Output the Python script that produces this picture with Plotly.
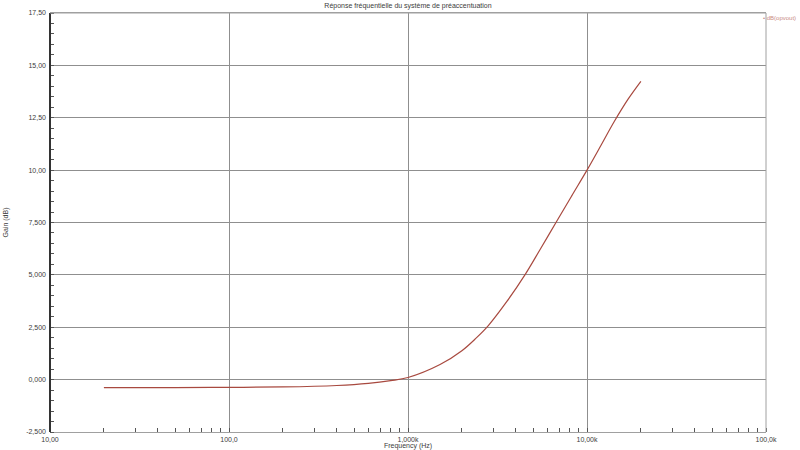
import plotly.graph_objects as go

# values
freq_hz = [20, 50, 100, 200, 400, 600, 800, 1000, 1510, 2000, 2400, 2810,
           3560, 4500, 5460, 6710, 8200, 10000, 12000, 14200, 17000, 20000]
gain_db = [-0.38, -0.38, -0.37, -0.35, -0.28, -0.18, -0.05, 0.10, 0.72, 1.38,
           1.98, 2.58, 3.72, 5.00, 6.20, 7.50, 8.76, 10.00, 11.20, 12.32, 13.40, 14.24]

y_tick_vals = [-2.5, 0, 2.5, 5, 7.5, 10, 12.5, 15, 17.5]
y_tick_text = ['-2,500', '0,000', '2,500', '5,000', '7,500', '10,00', '12,50', '15,00', '17,50']
x_tick_vals = [10, 100, 1000, 10000, 100000]
x_tick_text = ['10,00', '100,0', '1,000k', '10,00k', '100,0k']

font = 'Liberation Sans, Arial, sans-serif'
text_color = '#3c3c3c'
grid_color = '#8f8f8f'
curve_color = '#a8493f'

fig = go.Figure()
fig.add_trace(go.Scatter(
    x=freq_hz,
    y=gain_db,
    mode='lines',
    line=dict(color=curve_color, width=1.2, shape='spline', smoothing=1),
    name='dB(opvout)',
    showlegend=False,
))

fig.update_layout(
    width=800,
    height=450,
    margin=dict(l=50, r=34, t=13, b=18, autoexpand=False),
    paper_bgcolor='white',
    plot_bgcolor='white',
    font=dict(family=font, size=7, color=text_color),
    title=dict(
        text='Réponse fréquentielle du système de préaccentuation',
        x=408 / 800, xanchor='center', y=0.993, yanchor='top',
        font=dict(size=7, color=text_color),
    ),
)

fig.update_xaxes(
    type='log',
    range=[1, 5],
    tickvals=x_tick_vals,
    ticktext=x_tick_text,
    tickfont=dict(size=7, color=text_color),
    showgrid=True,
    gridcolor=grid_color,
    gridwidth=1,
    showline=True,
    linecolor='#a0a0a0',
    linewidth=1,
    mirror=True,
    ticks='',
    ticklabelstandoff=1,
    minor=dict(ticks='inside', ticklen=4, tickcolor='#555555', dtick='D1', showgrid=False),
    title=dict(text='Frequency (Hz)', font=dict(size=7, color=text_color), standoff=0),
    automargin=False,
    zeroline=False,
)

fig.update_yaxes(
    range=[-2.5, 17.5],
    tickvals=y_tick_vals,
    ticktext=y_tick_text,
    tickfont=dict(size=7, color=text_color),
    showgrid=True,
    gridcolor=grid_color,
    gridwidth=1,
    showline=False,
    ticks='',
    ticklabelstandoff=3,
    minor=dict(ticks='inside', ticklen=4, tickcolor='#555555', dtick=0.5, showgrid=False),
    title=dict(text='Gain (dB)', font=dict(size=7, color=text_color), standoff=16),
    automargin=False,
    zeroline=False,
)

# plot frame: dark left axis, grey top/right
fig.add_shape(type='line', xref='paper', yref='paper', x0=0, x1=0, y0=0, y1=1,
              line=dict(color='#333333', width=2))
fig.add_shape(type='line', xref='paper', yref='paper', x0=1, x1=1, y0=0, y1=1,
              line=dict(color='#a0a0a0', width=1))
fig.add_shape(type='line', xref='paper', yref='paper', x0=0, x1=1, y0=1, y1=1,
              line=dict(color='#a0a0a0', width=1))

fig.add_annotation(
    text='• dB(opvout)', xref='paper', yref='paper', x=(798 - 50) / 716, y=1.0,
    xanchor='right', yanchor='top', showarrow=False,
    font=dict(size=6, color='#c98a84'),
)

# the page body has a default 8px margin; drop it so the figure sits at 0,0
fig.write_html(
    'out.html',
    config={'displayModeBar': False},
    post_script="document.body.style.margin = '0';",
)
